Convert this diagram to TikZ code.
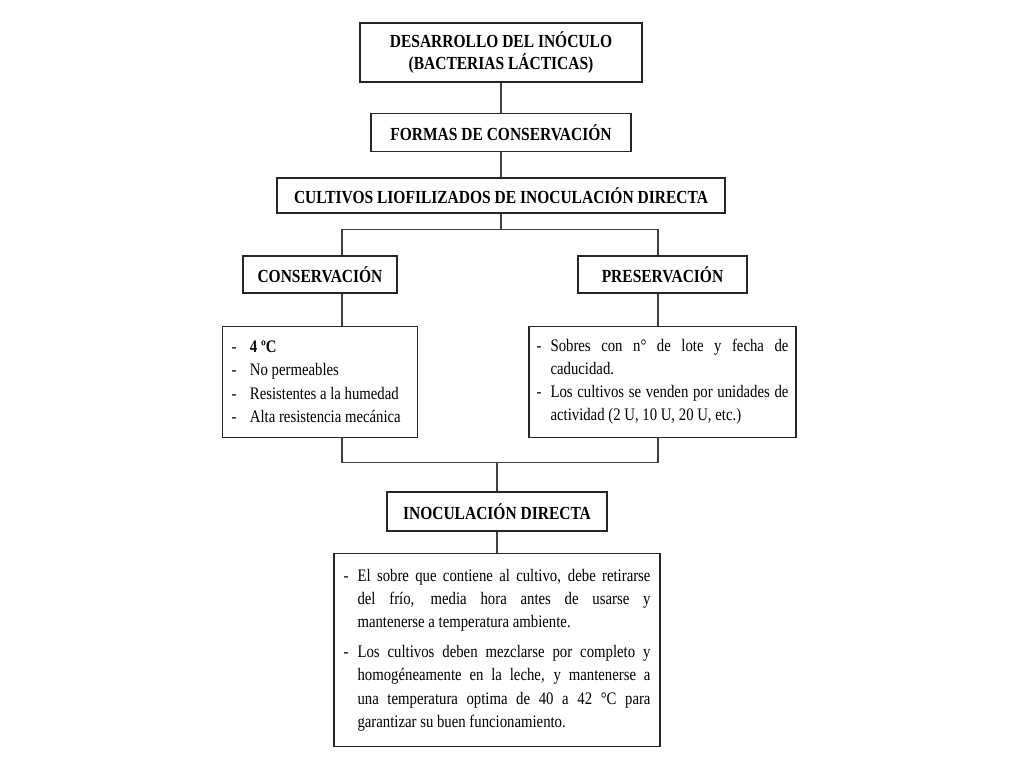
\documentclass[tikz,border=0pt]{standalone}
\usepackage{fontspec}
\setmainfont{Liberation Serif}[FakeStretch=0.84]
\usetikzlibrary{positioning,calc}
\newcommand{\guion}[1][0.8em]{\noindent\hangindent=#1\hangafter=1\makebox[#1][l]{-}}

\begin{document}
\begin{tikzpicture}[node distance=6mm,
  titulo/.style={draw=black!85,line width=0.9pt,fill=white,font=\fontsize{10.5}{12.5}\selectfont\bfseries,align=center,inner sep=2pt},
  lista/.style={draw=black!85,line width=0.9pt,fill=white,font=\fontsize{10}{13.2}\selectfont,inner ysep=2pt},
  enlace/.style={draw=black!75,line width=0.6pt}]
\path[fill=white,use as bounding box] (0,0) rectangle (20.48,-15.36);
\node[titulo,minimum width=5.64cm,minimum height=11.8mm] (desarrollo) at (10.02,-1.05) {DESARROLLO DEL INÓCULO\\(BACTERIAS LÁCTICAS)};
\node[titulo,below=6mm of desarrollo,minimum width=5.2cm,minimum height=7.6mm] (formas) {FORMAS DE CONSERVACIÓN};
\node[titulo,below=5mm of formas,minimum width=8.96cm,minimum height=7mm] (cultivos) {CULTIVOS LIOFILIZADOS DE INOCULACIÓN DIRECTA};
\node[titulo,below=8.2mm of cultivos,xshift=-3.62cm,minimum width=3.08cm,minimum height=7.4mm] (conserv) {CONSERVACIÓN};
\node[titulo,below=8.2mm of cultivos,xshift=3.23cm,minimum width=3.38cm,minimum height=7.4mm] (preserv) {PRESERVACIÓN};
\node[lista,align=flush left,below=6.4mm of conserv,text width=3.54cm,inner xsep=1.8mm,minimum height=22.2mm] (condic) {%
  \guion[1.05em]\textbf{4 ºC}\par
  \guion[1.05em]No permeables\par
  \guion[1.05em]Resistentes a la humedad\par
  \guion[1.05em]Alta resistencia mecánica\par};
\node[lista,align=justify,below=6.4mm of preserv,text width=5.04cm,inner xsep=1.5mm,minimum height=22.2mm] (caduc) {%
  \guion Sobres con n° de lote y fecha de\linebreak caducidad.\par
  \guion Los cultivos se venden por unidades de\linebreak actividad (2 U, 10 U, 20 U, etc.)\par};
\coordinate (ejeB) at (cultivos.south |- condic.south);
\node[titulo,below=10.6mm of ejeB,xshift=-0.08cm,minimum width=4.4cm,minimum height=7.8mm] (inocul) {INOCULACIÓN DIRECTA};
\node[lista,align=justify,below=4.2mm of inocul,text width=6.14cm,inner xsep=1.9mm,minimum height=38.6mm] (proced) {%
  \guion El sobre que contiene al cultivo, debe retirarse\linebreak del frío, media hora antes de usarse y\linebreak mantenerse a temperatura ambiente.\par\vspace{4pt}
  \guion Los cultivos deben mezclarse por completo y\linebreak homogéneamente en la leche, y mantenerse a\linebreak una temperatura optima de 40 a 42 °C para\linebreak garantizar su buen funcionamiento.\par};
% ramas
\coordinate (bifur) at ($(cultivos.south)+(0,-3.2mm)$);
\coordinate (ramaI) at ($(conserv.center)+(4.4mm,0)$);
\coordinate (ramaD) at ($(preserv.center)+(-0.9mm,0)$);
\coordinate (union) at ($(ejeB)+(-0.08cm,-4.8mm)$);
\draw[enlace] (desarrollo) -- (formas);
\draw[enlace] (formas) -- (cultivos);
\draw[enlace] (cultivos) -- (bifur);
\draw[enlace] (ramaI |- conserv.north) |- (bifur) -| (ramaD |- preserv.north);
\draw[enlace] (ramaI |- conserv.south) -- (ramaI |- condic.north);
\draw[enlace] (ramaD |- preserv.south) -- (ramaD |- caduc.north);
\draw[enlace] (ramaI |- condic.south) |- (union) -| (ramaD |- caduc.south);
\draw[enlace] (union) -- (inocul);
\draw[enlace] (inocul) -- (proced);
\end{tikzpicture}
\end{document}
